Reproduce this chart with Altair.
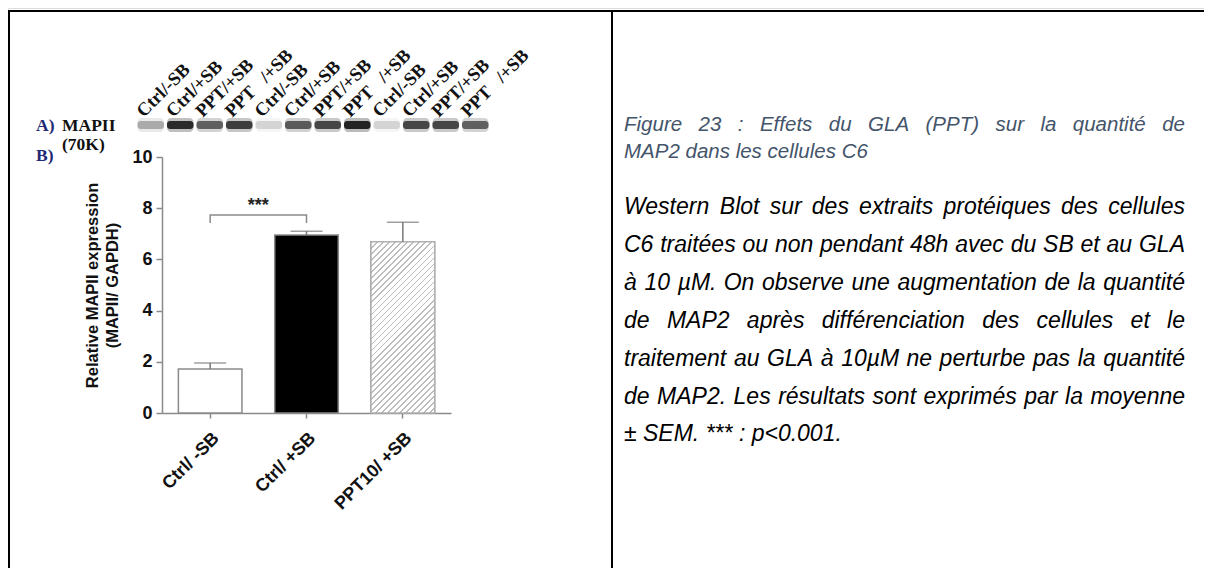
import altair as alt
import pandas as pd

# ---------------- data ----------------
groups = ["Ctrl/ -SB", "Ctrl/ +SB", "PPT10/ +SB"]
means = [1.72, 6.95, 6.69]
sems = [0.23, 0.15, 0.76]
y_ticks = [0, 2, 4, 6, 8, 10]

bracket_groups = ["Ctrl/ -SB", "Ctrl/ -SB", "Ctrl/ +SB", "Ctrl/ +SB"]
bracket_values = [7.42, 7.73, 7.73, 7.42]
sig_text = "***"
sig_value = 8.1

lane_ids = [str(i) for i in range(1, 13)]
lane_labels = ["Ctrl/-SB", "Ctrl/+SB", "PPT/+SB", "PPT\u00a0\u00a0\u00a0/+SB"] * 3
lane_intensity = [0.3, 0.9, 0.62, 0.8, 0.15, 0.65, 0.75, 0.95, 0.15, 0.75, 0.75, 0.62]

title_lines = ["Figure 23 : Effets du GLA (PPT) sur la quantité de",
               "MAP2 dans les cellules C6"]
body_lines = ["Western Blot sur des extraits protéiques des cellules",
              "C6 traitées ou non pendant 48h avec du SB et au GLA",
              "à 10 µM. On observe une augmentation de la quantité",
              "de MAP2 après différenciation des cellules et le",
              "traitement au GLA à 10µM ne perturbe pas la quantité",
              "de MAP2. Les résultats sont exprimés par la moyenne",
              "± SEM. *** : p<0.001."]
title_justified = [True, False]
body_justified = [True, True, True, True, True, True, False]

# ---------------- layout (plot pixels) ----------------
W, H = 1196, 560
SANS = "Liberation Sans"
SERIF = "Liberation Serif"

X_RANGE = [154, 443]
Y_RANGE = [405, 149]
P_IN, P_OUT = 0.34, 0.17

xscale = alt.Scale(domain=groups, range=X_RANGE, paddingInner=P_IN, paddingOuter=P_OUT)
yscale = alt.Scale(domain=[0, 10], range=Y_RANGE, nice=False, zero=True)

# Arial / Liberation Sans advance widths (1/1000 em)
AW = {' ': 278, '(': 333, ')': 333, '*': 389, '+': 584, ',': 278, '-': 333, '.': 278,
      '/': 278, ':': 278, ';': 278, '<': 584, '>': 584, '±': 584, 'µ': 556}
for c in "0123456789":
    AW[c] = 556
AW.update(dict(zip("ABCDEFGHIJKLMNOPQRSTUVWXYZ",
                   [667, 667, 722, 722, 667, 611, 778, 722, 278, 500, 667, 556, 833,
                    722, 778, 667, 778, 722, 667, 611, 722, 667, 944, 667, 667, 611])))
AW.update(dict(zip("abcdefghijklmnopqrstuvwxyz",
                   [556, 556, 500, 556, 556, 278, 556, 556, 222, 222, 500, 222, 833,
                    556, 556, 556, 556, 333, 500, 278, 556, 500, 722, 500, 500, 500])))
for c in "éèêàâô":
    AW[c] = 556
AW['ç'] = 500


def tw(s, size):
    return sum(AW.get(c, 556) for c in s) * size / 1000.0


def layout_lines(lines, justified, size, left, right, ys):
    rows = []
    for line, just, y in zip(lines, justified, ys):
        words = line.split(" ")
        if just and len(words) > 1:
            total = sum(tw(w, size) for w in words)
            gap = (right - left - total) / (len(words) - 1)
            x = left
            for w in words:
                rows.append({"x": x, "y": y, "t": w})
                x += tw(w, size) + gap
        else:
            rows.append({"x": left, "y": y, "t": line})
    return pd.DataFrame(rows)


TEXT_L, TEXT_R = 616, 1177
TITLE_SIZE, BODY_SIZE = 20.5, 23
title_df = layout_lines(title_lines, title_justified, TITLE_SIZE, TEXT_L, TEXT_R, [117, 144])
body_df = layout_lines(body_lines, body_justified, BODY_SIZE, TEXT_L, TEXT_R,
                       [199, 237, 275, 313, 351, 389, 426])

# ---------------- frame ----------------
one = pd.DataFrame({"a": [0]})
frame_left = alt.Chart(one).mark_rule(color="black", strokeWidth=2).encode(
    x=alt.value(1), y=alt.value(2), y2=alt.value(H))
frame_top = alt.Chart(one).mark_rule(color="black", strokeWidth=2).encode(
    x=alt.value(0), x2=alt.value(W), y=alt.value(3))
frame_mid = alt.Chart(one).mark_rule(color="black", strokeWidth=2).encode(
    x=alt.value(604), y=alt.value(2), y2=alt.value(H))

# ---------------- bar chart ----------------
bar_df = pd.DataFrame({"group": groups, "mean": means, "sem": sems})
bar_df["top"] = bar_df["mean"] + bar_df["sem"]

AXIS_GRAY = "#8a8a8a"
bars = alt.Chart(bar_df).mark_bar(stroke="#8a8a8a", strokeWidth=1.5).encode(
    x=alt.X("group:N", scale=xscale, sort=groups,
            axis=alt.Axis(title=None, orient="bottom", offset=Y_RANGE[0] - H,
                          labelAngle=315, labelAlign="right", labelBaseline="top",
                          labelPadding=11, labelFont=SANS, labelFontWeight="bold",
                          labelFontSize=18, labelColor="#111", tickSize=5,
                          tickColor=AXIS_GRAY, domainColor=AXIS_GRAY, domainWidth=1.5,
                          tickWidth=1.5)),
    y=alt.Y("mean:Q", scale=yscale,
            axis=alt.Axis(title=["Relative MAPII expression", "(MAPII/ GAPDH)"],
                          orient="left", offset=-X_RANGE[0], values=y_ticks, grid=False,
                          labelFont=SANS, labelFontWeight="bold", labelFontSize=18,
                          labelColor="#111", labelPadding=4, tickSize=6,
                          tickColor=AXIS_GRAY, domainColor=AXIS_GRAY, domainWidth=1.5,
                          tickWidth=1.5, titleFont=SANS, titleFontWeight="bold",
                          titleFontSize=16.5, titleColor="#111", titleLineHeight=20,
                          titleAngle=270, titleAlign="center", titleBaseline="bottom",
                          titleX=-62, titleY=(Y_RANGE[0] + Y_RANGE[1]) / 2)),
    fill=alt.Fill("group:N", scale=alt.Scale(domain=groups, range=["white", "black", "white"]),
                  legend=None),
)

# hatched fill for third bar (diagonal stripes via hard-stop gradient)
bw = (X_RANGE[1] - X_RANGE[0]) / len(groups) * (1 - P_IN)
bh = means[2] * (Y_RANGE[0] - Y_RANGE[1]) / 10.0
den = bw * bw + bh * bh
gx2 = (bw + bh) * bw / den
gy2 = (bw + bh) * bh / den
n_str = int(round((bw + bh) / 6.0))
stops = []
for k in range(n_str):
    a0 = k / n_str
    a1 = (k + 0.3) / n_str
    a2 = (k + 1) / n_str
    stops += [{"offset": a0, "color": "#bdbdbd"}, {"offset": a1, "color": "#bdbdbd"},
              {"offset": a1, "color": "#ffffff"}, {"offset": a2, "color": "#ffffff"}]
hatch_grad = {"gradient": "linear", "x1": 0, "y1": 0, "x2": gx2, "y2": gy2, "stops": stops}

hatch = alt.Chart(bar_df).transform_filter(alt.datum.group == groups[2]).mark_bar(
    fill=hatch_grad, stroke="#b0b0b0", strokeWidth=1.3).encode(
    x=alt.X("group:N", scale=xscale, axis=None),
    y=alt.Y("mean:Q", scale=yscale, axis=None))

err = alt.Chart(bar_df).mark_rule(color="#777", strokeWidth=1.5).encode(
    x=alt.X("group:N", scale=xscale, axis=None),
    y=alt.Y("mean:Q", scale=yscale, axis=None),
    y2="top:Q")
caps = alt.Chart(bar_df).mark_tick(color="#777", thickness=1.5, size=32,
                                   orient="horizontal").encode(
    x=alt.X("group:N", scale=xscale, axis=None),
    y=alt.Y("top:Q", scale=yscale, axis=None))

br_df = pd.DataFrame({"g": bracket_groups, "v": bracket_values,
                      "i": list(range(len(bracket_groups)))})
bracket = alt.Chart(br_df).mark_line(color="#8a8a8a", strokeWidth=1.5).encode(
    x=alt.X("g:N", scale=xscale, axis=None),
    y=alt.Y("v:Q", scale=yscale, axis=None),
    order="i:Q")
step = (X_RANGE[1] - X_RANGE[0]) / len(groups)
stars = alt.Chart(pd.DataFrame({"g": [groups[0]], "v": [sig_value], "t": [sig_text]})).mark_text(
    font=SANS, fontWeight="bold", fontSize=18, color="#222", dx=step / 2,
    baseline="middle").encode(
    x=alt.X("g:N", scale=xscale, axis=None),
    y=alt.Y("v:Q", scale=yscale, axis=None),
    text="t:N")

# ---------------- western blot ----------------
lane_df = pd.DataFrame({"lane": lane_ids, "label": lane_labels, "k": lane_intensity})
lane_df["k_halo"] = lane_df["k"] * 0.35
lscale = alt.Scale(domain=lane_ids, range=[128, 482], paddingInner=0.1, paddingOuter=0.05)
blot_halo = alt.Chart(lane_df).mark_rect(color="#333", cornerRadius=4).encode(
    x=alt.X("lane:N", scale=lscale, axis=None, sort=lane_ids),
    y=alt.value(110), y2=alt.value(124),
    opacity=alt.Opacity("k_halo:Q", scale=None, legend=None))
blot = alt.Chart(lane_df).mark_rect(color="#1a1a1a", cornerRadius=3).encode(
    x=alt.X("lane:N", scale=lscale, axis=None, sort=lane_ids),
    y=alt.value(113), y2=alt.value(121),
    opacity=alt.Opacity("k:Q", scale=None, legend=None))
lane_text = alt.Chart(lane_df).mark_text(
    font=SERIF, fontWeight="bold", fontSize=18.5, angle=315, align="left",
    baseline="alphabetic", dx=-10, color="#111").encode(
    x=alt.X("lane:N", scale=lscale, axis=None, sort=lane_ids),
    y=alt.value(103),
    text="label:N")

NAVY = "#1f2a78"
def label(txt, x, y, color="#111", size=17.5):
    return alt.Chart(one).mark_text(text=txt, font=SERIF, fontWeight="bold", fontSize=size,
                                    align="left", baseline="alphabetic", color=color).encode(
        x=alt.value(x), y=alt.value(y))

lab_a = label("A)", 28, 123, NAVY)
lab_map = label("MAPII", 54, 123)
lab_70 = label("(70K)", 54, 142)
lab_b = label("B)", 28, 153, NAVY)

# ---------------- caption ----------------
cap_title = alt.Chart(title_df).mark_text(
    font=SANS, fontStyle="italic", fontSize=TITLE_SIZE, color="#44546A", align="left",
    baseline="middle").encode(
    x=alt.X("x:Q", scale=None, axis=None), y=alt.Y("y:Q", scale=None, axis=None), text="t:N")
cap_body = alt.Chart(body_df).mark_text(
    font=SANS, fontStyle="italic", fontSize=BODY_SIZE, color="#000000", align="left",
    baseline="middle").encode(
    x=alt.X("x:Q", scale=None, axis=None), y=alt.Y("y:Q", scale=None, axis=None), text="t:N")

chart = alt.layer(
    frame_left, frame_top, frame_mid,
    bars, hatch, err, caps, bracket, stars,
    blot_halo, blot, lane_text, lab_a, lab_map, lab_70, lab_b,
    cap_title, cap_body,
).resolve_scale(
    x="independent", y="independent", fill="independent", opacity="independent"
).properties(
    width=W, height=H, autosize="none", padding=0
).configure_view(stroke=None).configure(background="white")

chart.save("out.html", embed_options={"renderer": "svg", "actions": False})
